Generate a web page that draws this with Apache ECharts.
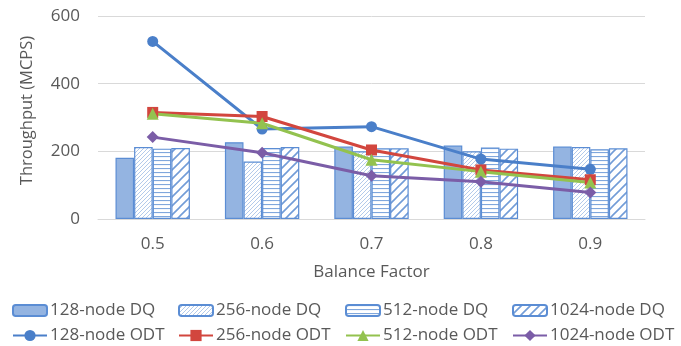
<!DOCTYPE html>
<html>
<head>
<meta charset="utf-8">
<script src="https://cdn.jsdelivr.net/npm/echarts@6/dist/echarts.min.js"></script>
<style>html,body{margin:0;padding:0;background:#fff}#c{width:681px;height:346px}</style>
</head>
<body>
<div id="c"></div>
<script>
const categories = ['0.5', '0.6', '0.7', '0.8', '0.9'];
const yTicks = [0, 200, 400, 600];
const dq128 = [181, 227, 214, 217, 214];
const dq256 = [213, 170, 200, 200, 213];
const dq512 = [208, 210, 209, 211, 206];
const dq1024 = [210, 213, 209, 208, 209];
const odt128 = [525, 266, 273, 177, 147];
const odt256 = [315, 303, 204, 145, 116];
const odt512 = [311, 283, 175, 140, 108];
const odt1024 = [242, 196, 128, 110, 78];

function pattern(kind) {
  const c = document.createElement('canvas');
  const ctx = c.getContext('2d');
  if (kind === 'fine') {
    c.width = 4; c.height = 4;
    ctx.fillStyle = '#fff'; ctx.fillRect(0, 0, 4, 4);
    ctx.strokeStyle = '#B3CAEA'; ctx.lineWidth = 1;
    ctx.beginPath();
    ctx.moveTo(0, 4); ctx.lineTo(4, 0);
    ctx.moveTo(-1, 1); ctx.lineTo(1, -1);
    ctx.moveTo(3, 5); ctx.lineTo(5, 3);
    ctx.stroke();
  } else if (kind === 'horiz') {
    c.width = 4; c.height = 4;
    ctx.fillStyle = '#fff'; ctx.fillRect(0, 0, 4, 4);
    ctx.fillStyle = '#80A7DC'; ctx.fillRect(0, 0, 4, 1.1);
  } else {
    c.width = 9; c.height = 9;
    ctx.fillStyle = '#fff'; ctx.fillRect(0, 0, 9, 9);
    ctx.strokeStyle = '#729CD7'; ctx.lineWidth = 1.6;
    ctx.beginPath();
    ctx.moveTo(0, 9); ctx.lineTo(9, 0);
    ctx.moveTo(-2, 2); ctx.lineTo(2, -2);
    ctx.moveTo(7, 11); ctx.lineTo(11, 7);
    ctx.stroke();
  }
  return { image: c, repeat: 'repeat' };
}

const border = '#5B8DD4';
const font = '"Open Sans", "Noto Sans", sans-serif';
const txt = '#595959';

function bar(name, data, color) {
  return {
    name, type: 'bar', data, barGap: '0%', barCategoryGap: '32%',
    itemStyle: { color, borderColor: border, borderWidth: 1.2 },
    emphasis: { disabled: true }
  };
}
function line(name, data, color, symbol, size) {
  return {
    name, type: 'line', data, symbol, symbolSize: size,
    lineStyle: { color, width: 3 }, itemStyle: { color },
    emphasis: { disabled: true }, z: 3
  };
}

const names = ['128-node DQ', '256-node DQ', '512-node DQ', '1024-node DQ',
               '128-node ODT', '256-node ODT', '512-node ODT', '1024-node ODT'];
const legLeft = [7, 173, 340, 507];
const legends = names.map((n, i) => ({
  data: [n], left: legLeft[i % 4], top: i < 4 ? 297 : 322,
  itemWidth: 34, itemHeight: i < 4 ? 11 : 14, selectedMode: false,
  textStyle: { fontFamily: font, fontSize: 17, color: txt, padding: [0, 0, 0, -2] }
}));

const chart = echarts.init(document.getElementById('c'), null, { renderer: 'canvas' });
chart.setOption({
  animation: false,
  legend: legends,
  grid: { left: 98, right: 36, top: 16, bottom: 127, containLabel: false },
  xAxis: {
    type: 'category', data: categories,
    axisLine: { lineStyle: { color: '#D9D9D9', width: 1 } },
    axisTick: { show: false },
    axisLabel: { fontFamily: font, fontSize: 17, color: txt, margin: 17 },
    name: 'Balance Factor', nameLocation: 'middle', nameGap: 45,
    nameTextStyle: { fontFamily: font, fontSize: 17, color: txt }
  },
  yAxis: {
    type: 'value', min: yTicks[0], max: yTicks[yTicks.length - 1], interval: 200,
    axisLine: { show: false }, axisTick: { show: false },
    splitLine: { lineStyle: { color: '#D9D9D9', width: 1 } },
    axisLabel: { fontFamily: font, fontSize: 17, color: txt, margin: 18 },
    name: 'Throughput (MCPS)', nameLocation: 'middle', nameGap: 62,
    nameTextStyle: { fontFamily: font, fontSize: 16.5, color: txt, padding: [0, 0, 0, 14] }
  },
  series: [
    bar(names[0], dq128, '#94B4E1'),
    bar(names[1], dq256, pattern('fine')),
    bar(names[2], dq512, pattern('horiz')),
    bar(names[3], dq1024, pattern('thick')),
    line(names[4], odt128, '#4A7FC9', 'circle', 11),
    line(names[5], odt256, '#D2463E', 'rect', 11),
    line(names[6], odt512, '#93C24F', 'triangle', 12),
    line(names[7], odt1024, '#7B5DA7', 'diamond', 12)
  ]
});
</script>
</body>
</html>
